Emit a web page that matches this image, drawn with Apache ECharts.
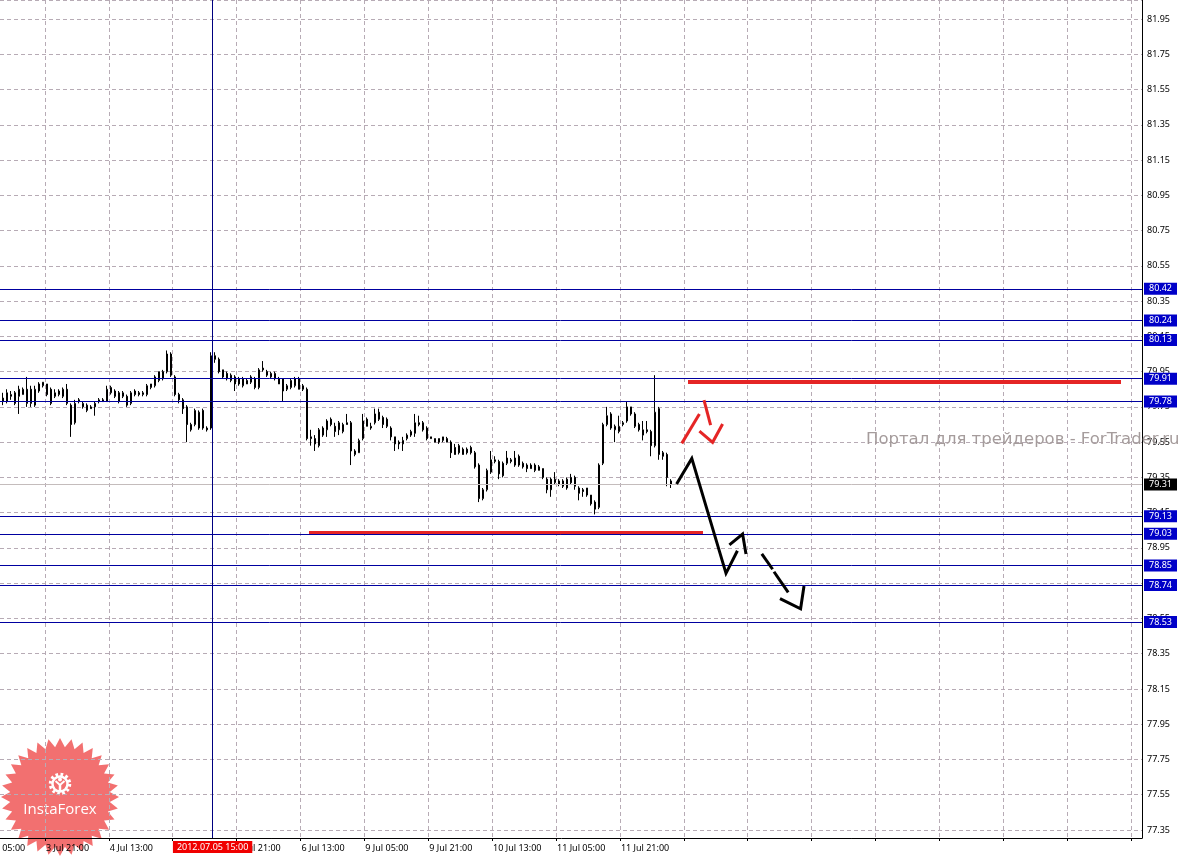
<!DOCTYPE html>
<html><head><meta charset="utf-8">
<script src="https://cdn.jsdelivr.net/npm/echarts@6/dist/echarts.min.js"></script>
<style>html,body{margin:0;padding:0;background:#fff;overflow:hidden;width:1182px;height:858px;position:relative}
#c{position:absolute;left:-21px;top:0;width:1203px;height:858px}</style>
</head><body><div id="c"></div>
<script>
// ---- data ----
const firstBar = 6; // bar index of first candle (3 Jul 05:00 = bar 0, hourly bars)
const timeTicks = [0, 16, 32, 48, 64, 80, 96, 112, 128, 144, 160];
const timeLabels = ['3 Jul 05:00', '3 Jul 21:00', '4 Jul 13:00', '5 Jul 05:00', '5 Jul 21:00', '6 Jul 13:00',
  '9 Jul 05:00', '9 Jul 21:00', '10 Jul 13:00', '11 Jul 05:00', '11 Jul 21:00'];
// [open, close, low, high]
const ohlc = [
  [79.80,79.78,79.76,79.83],[79.78,79.83,79.77,79.85],[79.81,79.82,79.79,79.84],[79.83,79.77,79.76,79.84],
  [79.81,79.85,79.71,79.87],[79.82,79.85,79.82,79.86],[79.85,79.77,79.75,79.92],[79.85,79.77,79.75,79.87],
  [79.76,79.85,79.75,79.87],[79.84,79.88,79.83,79.89],[79.87,79.89,79.86,79.89],[79.88,79.82,79.81,79.88],
  [79.85,79.77,79.76,79.86],[79.81,79.83,79.80,79.85],[79.82,79.84,79.81,79.85],[79.81,79.85,79.80,79.86],
  [79.85,79.77,79.76,79.88],[79.76,79.65,79.58,79.77],[79.66,79.77,79.65,79.79],[79.79,79.78,79.77,79.80],
  [79.75,79.77,79.74,79.78],[79.73,79.76,79.72,79.77],[79.75,79.74,79.74,79.76],[79.75,79.77,79.70,79.78],
  [79.78,79.79,79.77,79.80],[79.79,79.78,79.78,79.80],[79.78,79.85,79.78,79.87],[79.83,79.86,79.82,79.87],
  [79.84,79.81,79.80,79.85],[79.83,79.78,79.77,79.84],[79.81,79.83,79.80,79.84],[79.81,79.76,79.75,79.82],
  [79.77,79.83,79.76,79.84],[79.84,79.82,79.81,79.85],[79.83,79.82,79.81,79.84],[79.82,79.83,79.81,79.84],
  [79.82,79.87,79.81,79.88],[79.86,79.88,79.85,79.88],[79.87,79.92,79.86,79.93],[79.90,79.95,79.89,79.95],
  [79.91,79.95,79.90,79.96],[79.95,80.05,79.94,80.07],[80.05,79.93,79.92,80.06],[79.92,79.82,79.81,79.93],
  [79.82,79.79,79.77,79.83],[79.79,79.74,79.71,79.80],[79.75,79.65,79.55,79.76],[79.62,79.65,79.61,79.66],
  [79.65,79.73,79.64,79.74],[79.63,79.72,79.62,79.73],[79.73,79.63,79.62,79.74],[79.63,79.62,79.61,79.64],
  [79.63,80.04,79.62,80.06],[80.04,80.02,80.00,80.06],[80.02,79.95,79.94,80.03],[79.96,79.92,79.91,79.96],
  [79.94,79.91,79.90,79.95],[79.90,79.93,79.89,79.94],[79.92,79.88,79.84,79.93],[79.91,79.88,79.87,79.92],
  [79.87,79.91,79.86,79.92],[79.88,79.90,79.88,79.91],[79.89,79.92,79.88,79.93],[79.91,79.86,79.85,79.92],
  [79.86,79.96,79.85,79.97],[79.97,79.96,79.95,80.01],[79.95,79.93,79.92,79.96],[79.92,79.94,79.91,79.95],
  [79.91,79.94,79.90,79.95],[79.91,79.88,79.88,79.92],[79.91,79.84,79.78,79.91],[79.85,79.87,79.84,79.88],
  [79.86,79.90,79.85,79.91],[79.87,79.91,79.86,79.92],[79.91,79.85,79.85,79.92],[79.85,79.87,79.84,79.88],
  [79.85,79.57,79.56,79.86],[79.58,79.57,79.53,79.62],[79.57,79.54,79.50,79.59],[79.53,79.62,79.52,79.63],
  [79.59,79.63,79.58,79.64],[79.62,79.67,79.58,79.68],[79.68,79.65,79.64,79.69],[79.64,79.61,79.58,79.66],
  [79.62,79.66,79.59,79.67],[79.61,79.65,79.60,79.66],[79.66,79.65,79.65,79.71],[79.66,79.50,79.42,79.67],
  [79.48,79.50,79.47,79.51],[79.49,79.56,79.49,79.57],[79.57,79.67,79.56,79.71],[79.68,79.64,79.64,79.69],
  [79.63,79.64,79.62,79.66],[79.66,79.71,79.65,79.74],[79.72,79.68,79.67,79.74],[79.69,79.65,79.63,79.70],
  [79.68,79.64,79.63,79.69],[79.63,79.58,79.56,79.64],[79.58,79.54,79.50,79.58],[79.55,79.54,79.51,79.56],
  [79.54,79.56,79.50,79.58],[79.57,79.59,79.56,79.60],[79.59,79.61,79.58,79.62],[79.60,79.66,79.58,79.71],
  [79.66,79.65,79.64,79.70],[79.66,79.62,79.61,79.67],[79.63,79.57,79.56,79.64],[79.58,79.57,79.57,79.58],
  [79.57,79.55,79.55,79.57],[79.57,79.55,79.54,79.57],[79.56,79.58,79.55,79.58],[79.57,79.55,79.55,79.58],
  [79.55,79.49,79.46,79.56],[79.52,79.48,79.48,79.54],[79.53,79.49,79.48,79.54],[79.51,79.48,79.48,79.52],
  [79.51,79.49,79.48,79.52],[79.52,79.49,79.48,79.53],[79.49,79.41,79.40,79.50],[79.42,79.23,79.21,79.43],
  [79.23,79.28,79.22,79.29],[79.28,79.39,79.27,79.40],[79.38,79.45,79.37,79.50],[79.44,79.45,79.43,79.47],
  [79.44,79.37,79.34,79.45],[79.43,79.36,79.35,79.44],[79.43,79.46,79.42,79.50],[79.44,79.45,79.43,79.46],
  [79.42,79.46,79.41,79.50],[79.47,79.42,79.41,79.48],[79.43,79.41,79.40,79.44],[79.42,79.40,79.38,79.43],
  [79.42,79.40,79.40,79.43],[79.42,79.39,79.38,79.43],[79.41,79.39,79.39,79.42],[79.40,79.35,79.34,79.40],
  [79.34,79.28,79.26,79.35],[79.34,79.28,79.24,79.35],[79.32,79.34,79.31,79.38],[79.33,79.31,79.30,79.34],
  [79.33,79.30,79.29,79.34],[79.29,79.34,79.28,79.35],[79.35,79.32,79.31,79.37],[79.35,79.30,79.28,79.36],
  [79.29,79.26,79.22,79.30],[79.28,79.27,79.24,79.29],[79.29,79.25,79.24,79.29],[79.25,79.20,79.19,79.25],
  [79.21,79.17,79.14,79.22],[79.18,79.42,79.17,79.43],[79.43,79.65,79.42,79.66],[79.65,79.70,79.64,79.75],
  [79.71,79.63,79.62,79.72],[79.62,79.64,79.55,79.65],[79.61,79.64,79.60,79.70],[79.65,79.66,79.64,79.67],
  [79.67,79.75,79.66,79.78],[79.75,79.71,79.70,79.75],[79.71,79.64,79.63,79.72],[79.65,79.62,79.61,79.66],
  [79.59,79.62,79.56,79.67],[79.62,79.61,79.60,79.67],[79.61,79.53,79.47,79.62],[79.53,79.72,79.52,79.93],
  [79.74,79.48,79.45,79.75],[79.49,79.47,79.45,79.50],[79.48,79.35,79.30,79.49],[79.33,79.31,79.29,79.34]
];
const levelLines = [80.42, 80.24, 80.13, 79.91, 79.78, 79.13, 79.03, 78.85, 78.74, 78.53];
const bidPrice = 79.31;
const cursorBar = 58;
const cursorLabel = '2012.07.05 15:00';
// hand-drawn annotations [bar, price]
const upperRedLine = [[177.25, 79.891], [285.5, 79.891]];
const lowerRedLine = [[82.5, 79.035], [181, 79.035]];
const redZigA = [[175.7, 79.543], [180.1, 79.710]];
const redZigB = [[181.25, 79.789], [182.9, 79.647]];
const redZigC = [[180.1, 79.613], [183.4, 79.549], [185.9, 79.653]];
const blackPathA = [[174.4, 79.313], [178.2, 79.458], [186.75, 78.806], [189.6, 78.934]];
const blackPathB = [[187.6, 78.967], [190.9, 79.029], [191.75, 78.916]];
const blackDashA = [[195.7, 78.916], [198.4, 78.829]];
const blackDashB = [[198.75, 78.815], [202.3, 78.698]];
const blackPathC = [[200.25, 78.662], [205.4, 78.605], [206.25, 78.734]];
const watermark = 'Портал для трейдеров - ForTrader.ru';
const logoText = 'InstaForex';

// ---- chart ----
const FONT = 'Noto Sans';
const FS = 9;
const gridColor = '#b7abb5';
const OX = 21; // canvas is shifted 21px left of the page
const chart = echarts.init(document.getElementById('c'), null, {renderer: 'canvas'});
const candleData = ohlc.map((d, k) => [firstBar + k].concat(d));
const labelMap = {};
timeTicks.forEach((t, k) => { labelMap[t] = timeLabels[k]; });

function lineSeries(data, color, width, z) {
  return {type: 'line', xAxisIndex: 0, yAxisIndex: 0, data: data, showSymbol: false, symbol: 'none',
    silent: true, clip: false, z: z || 5, animation: false,
    lineStyle: {color: color, width: width, cap: 'butt', join: 'miter'}};
}

const starPts = [];
for (let k = 0; k < 64; k++) {
  const a = Math.PI * k / 32 - Math.PI / 2;
  const r = (k % 2) ? 50 : 59;
  starPts.push([OX + 60 + r * Math.cos(a), 797 + r * Math.sin(a)]);
}

const levelItems = levelLines.map(v => ({yAxis: v}));
levelItems.push({
  yAxis: bidPrice,
  lineStyle: {color: '#c4bcbc', width: 1, type: 'solid'},
  label: {backgroundColor: '#000000'}
});

const option = {
  animation: false,
  backgroundColor: '#ffffff',
  grid: [
    {left: 0, right: 40, top: 0, bottom: 28},
    {left: 0, right: 40, top: 0, bottom: 20}
  ],
  xAxis: [
    {type: 'value', gridIndex: 0, min: 0, max: 290.75, show: false},
    {type: 'value', gridIndex: 1, min: 0, max: 290.75, interval: 16,
      axisLine: {show: true, onZero: false, lineStyle: {color: '#000', width: 1}},
      axisTick: {show: true, length: 3, lineStyle: {color: '#000'}},
      splitLine: {show: true, lineStyle: {color: gridColor, type: [4, 3], width: 1}},
      axisLabel: {show: true, showMaxLabel: false, align: 'left', margin: 6, color: '#000',
        fontFamily: FONT, fontSize: FS, padding: [0, 0, 0, 1],
        formatter: v => labelMap[v] || ''}
    }
  ],
  yAxis: [
    {type: 'value', gridIndex: 0, position: 'right', min: 77.35, max: 82.058, interval: 0.2,
      axisLine: {show: false},
      axisTick: {show: true, length: 3, lineStyle: {color: '#000'}},
      splitLine: {show: true, lineStyle: {color: gridColor, type: [4, 3], width: 1}},
      axisLabel: {show: true, showMaxLabel: false, margin: 5, color: '#000', fontFamily: FONT, fontSize: FS,
        formatter: v => v.toFixed(2)}
    },
    {type: 'value', gridIndex: 1, position: 'right', min: 0, max: 1,
      axisLine: {show: true, onZero: false, lineStyle: {color: '#000', width: 1}},
      axisTick: {show: false}, axisLabel: {show: false}, splitLine: {show: false}}
  ],
  graphic: [
    {type: 'polygon', z: -5, silent: true, shape: {points: starPts},
      style: {fill: 'rgba(238,72,72,0.78)'}},
    {type: 'circle', z: -4, silent: true, shape: {cx: OX + 60, cy: 784, r: 9.5},
      style: {fill: 'none', stroke: '#ffffff', lineWidth: 3.5, lineDash: [2.6, 2.4]}},
    {type: 'circle', z: -4, silent: true, shape: {cx: OX + 60, cy: 784, r: 7.5},
      style: {fill: 'none', stroke: '#ffffff', lineWidth: 2.5}},
    {type: 'circle', z: -4, silent: true, shape: {cx: OX + 60, cy: 779.5, r: 2},
      style: {fill: '#ffffff'}},
    {type: 'polyline', z: -4, silent: true, shape: {points: [[OX + 55.5, 781], [OX + 60, 785], [OX + 64.5, 781]]},
      style: {stroke: '#ffffff', lineWidth: 2, fill: 'none'}},
    {type: 'line', z: -4, silent: true, shape: {x1: OX + 60, y1: 784, x2: OX + 60, y2: 792},
      style: {stroke: '#ffffff', lineWidth: 2.5}},
    {type: 'text', z: -4, silent: true,
      style: {text: logoText, x: OX + 60, y: 810, align: 'center', verticalAlign: 'middle',
        fill: '#ffffff', font: '15px "Open Sans"'}},
    {type: 'text', z: 1, silent: true,
      style: {text: watermark, x: OX + 866, y: 440, align: 'left', verticalAlign: 'middle',
        fill: '#a59c9c', font: '16.5px "DejaVu Sans"'}}
  ],
  series: [
    {
      type: 'candlestick', xAxisIndex: 0, yAxisIndex: 0, data: candleData,
      barWidth: 2, silent: true, clip: false, z: 3,
      itemStyle: {color: '#ffffff', color0: '#000000', borderColor: '#000000', borderColor0: '#000000',
        borderColorDoji: '#000000', borderWidth: 1}
    },
    Object.assign(lineSeries(upperRedLine, '#e52525', 4, 4), {
      markLine: {
        silent: true, symbol: ['none', 'none'], animation: false, precision: 2,
        lineStyle: {color: '#0000a0', width: 1, type: 'solid'},
        label: {show: true, position: 'end', distance: 2, color: '#ffffff', backgroundColor: '#0000c8',
          padding: [2, 5, 1, 5], fontFamily: FONT, fontSize: FS,
          formatter: p => Number(p.value).toFixed(2)},
        emphasis: {disabled: true},
        data: levelItems
      }
    }),
    lineSeries(lowerRedLine, '#e52525', 4, 4),
    lineSeries(redZigA, '#e52525', 3),
    lineSeries(redZigB, '#e52525', 3),
    lineSeries(redZigC, '#e52525', 3),
    lineSeries(blackPathA, '#000000', 3),
    lineSeries(blackPathB, '#000000', 3),
    lineSeries(blackDashA, '#000000', 3),
    lineSeries(blackDashB, '#000000', 3),
    lineSeries(blackPathC, '#000000', 3),
    {
      type: 'line', xAxisIndex: 1, yAxisIndex: 1, data: [], silent: true, z: 6,
      markLine: {
        silent: true, symbol: ['none', 'none'], animation: false,
        lineStyle: {color: '#000080', width: 1, type: 'solid'},
        label: {show: true, position: 'start', distance: 3, color: '#ffffff', backgroundColor: '#f00000',
          padding: [2, 4, 1, 4], fontFamily: FONT, fontSize: FS, formatter: () => cursorLabel},
        emphasis: {disabled: true},
        data: [{xAxis: cursorBar}]
      }
    }
  ]
};
chart.setOption(option);
</script>
</body></html>
